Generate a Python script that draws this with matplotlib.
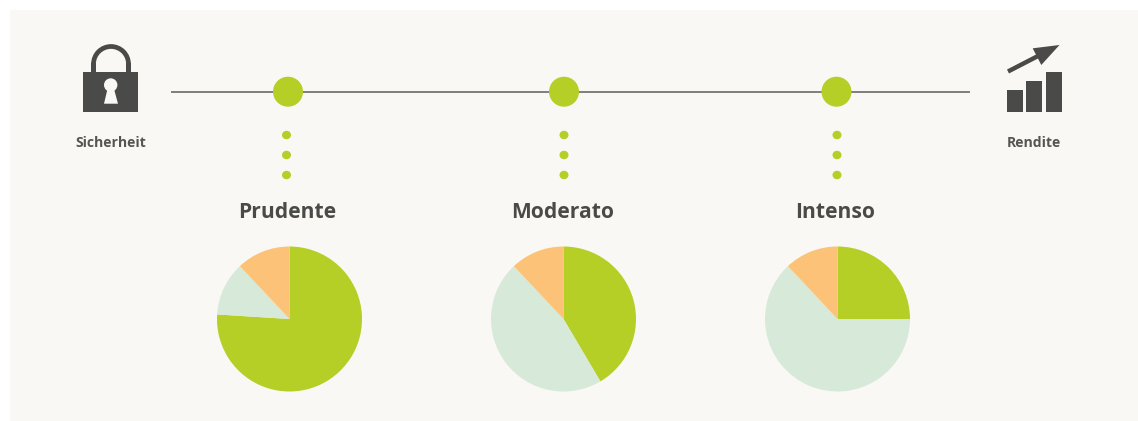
"""Risk profile graphic: security-to-return scale above three allocation pies."""
import matplotlib
matplotlib.use("Agg")
import matplotlib.pyplot as plt
from matplotlib.patches import Arc, Circle, Ellipse, Polygon, Rectangle

W, H = 1138, 421
GREEN = "#b5cf27"
PALE = "#d7e9d9"
ORANGE = "#fcc378"
PANEL = "#f9f8f4"
DARK = "#4a4a48"
FONT = "Open Sans"

profiles = ["Prudente", "Moderato", "Intenso"]
bond_share = [76, 41.5, 25]
stock_share = [12, 46.5, 63]
cash_share = [12, 12, 12]
scale_labels = ["Sicherheit", "Rendite"]
rendite_bars = [22, 31, 40]

PIE_X = [289.5, 563.5, 837.5]
MARK_X = [288, 564, 836.5]
DOT_X = [286.5, 564, 837]
PIE_Y = 319
PIE_R = 72.5
LINE_Y = 91.7

fig = plt.figure(figsize=(W / 100, H / 100), dpi=100, facecolor="white")
ax = fig.add_axes([0, 0, 1, 1])
ax.set_xlim(0, W)
ax.set_ylim(H, 0)
ax.axis("off")
ax.set_aspect("equal")

ax.add_patch(Rectangle((10, 10), W - 10, H - 10, fc=PANEL, ec="none"))

# ----- scale line and markers ---------------------------------------- #
ax.plot([171, 970], [LINE_Y, LINE_Y], color="#6a6a67", lw=1.2, zorder=2,
        solid_capstyle="butt")
for x, dx in zip(MARK_X, DOT_X):
    ax.add_patch(Circle((x, LINE_Y), 15, fc=GREEN, ec="none", zorder=3))
    for y in (135, 155, 175):
        ax.add_patch(Ellipse((dx, y), 9, 8.5, fc=GREEN, ec="none", zorder=3))

# ----- lock icon ----------------------------------------------------- #
ax.add_patch(Rectangle((83, 72), 55, 40, fc=DARK, ec="none", zorder=3))
ax.add_patch(Rectangle((91, 63), 5, 10, fc=DARK, ec="none", zorder=3))
ax.add_patch(Rectangle((126, 63), 5, 10, fc=DARK, ec="none", zorder=3))
ax.add_patch(Arc((111, 64), 35, 35, theta1=180, theta2=360, color=DARK, lw=3.4, zorder=3))
ax.add_patch(Circle((110.7, 85), 6.7, fc=PANEL, ec="none", zorder=4))
ax.add_patch(Polygon([(107.5, 89), (114, 89), (118, 103.7), (104, 103.7)],
                     fc=PANEL, ec="none", zorder=4))

# ----- return icon --------------------------------------------------- #
for x, h in zip([1007, 1026, 1046], rendite_bars):
    ax.add_patch(Rectangle((x, 112 - h), 16, h, fc=DARK, ec="none", zorder=3))
ax.add_patch(Polygon([(1007, 69.5), (1009, 73.5), (1039, 58), (1037, 54)],
                     fc=DARK, ec="none", zorder=3))
ax.add_patch(Polygon([(1059.5, 45), (1032.7, 48.3), (1041.3, 65)],
                     fc=DARK, ec="none", zorder=3))

# ----- labels -------------------------------------------------------- #
for x, label in zip([110.5, 1034], scale_labels):
    ax.text(x, 143, label, ha="center", va="center", fontsize=10.1,
            fontweight="bold", color="#555553", family=FONT)

for x, name in zip([287, 563, 835.5], profiles):
    ax.text(x, 212, name, ha="center", va="center", fontsize=15.1,
            fontweight="bold", color=DARK, family=FONT)

# ----- allocation pies ----------------------------------------------- #
for i, cx in enumerate(PIE_X):
    pie_ax = fig.add_axes([(cx - PIE_R) / W, 1 - (PIE_Y + PIE_R) / H,
                           2 * PIE_R / W, 2 * PIE_R / H])
    pie_ax.pie([bond_share[i], stock_share[i], cash_share[i]],
               colors=[GREEN, PALE, ORANGE], startangle=90, counterclock=False,
               radius=1.0)
    pie_ax.set_xlim(-1, 1)
    pie_ax.set_ylim(-1, 1)

fig.savefig("out.png", dpi=100, facecolor="white")
